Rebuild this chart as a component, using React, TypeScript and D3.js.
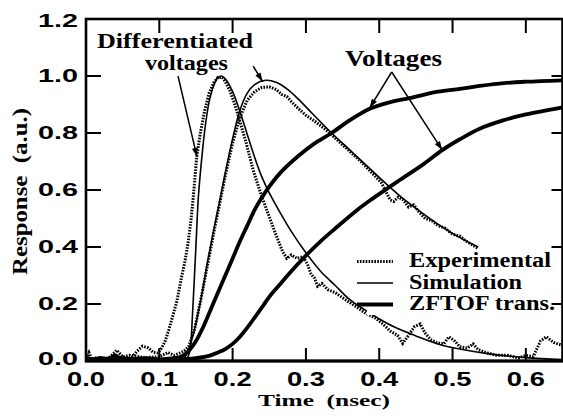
import React from 'react';
import * as d3 from 'd3';

type Pt = [number, number];

const xTicks = [0, 0.1, 0.2, 0.3, 0.4, 0.5, 0.6];
const yTicks = [0, 0.2, 0.4, 0.6, 0.8, 1.0, 1.2];
const legendLabels = ['Experimental', 'Simulation', 'ZFTOF  trans.'];

// faster differentiated voltage (peak ~0.18 ns)
const diffFastExp: Pt[] = [
  [0, 0.01], [0.004, 0.03], [0.008, 0.006], [0.015, 0.012], [0.022, 0.006], [0.03, 0.01],
  [0.036, 0.022], [0.042, 0.038], [0.048, 0.02], [0.055, 0.008], [0.063, 0.014], [0.07, 0.035],
  [0.077, 0.052], [0.085, 0.046], [0.092, 0.03], [0.098, 0.028], [0.103, 0.045], [0.108, 0.07],
  [0.113, 0.11], [0.118, 0.155], [0.124, 0.21], [0.13, 0.29], [0.135, 0.35], [0.139, 0.41],
  [0.143, 0.49], [0.146, 0.565], [0.151, 0.715], [0.156, 0.8], [0.162, 0.88], [0.168, 0.94],
  [0.174, 0.975], [0.18, 0.995], [0.186, 0.995], [0.19, 0.98], [0.196, 0.95], [0.203, 0.9],
  [0.21, 0.84], [0.218, 0.77], [0.228, 0.67], [0.238, 0.59], [0.248, 0.52], [0.258, 0.45],
  [0.268, 0.385], [0.274, 0.36], [0.28, 0.372], [0.288, 0.36], [0.296, 0.366], [0.302, 0.34],
  [0.307, 0.305], [0.312, 0.29], [0.316, 0.262], [0.322, 0.272], [0.33, 0.25], [0.34, 0.24],
  [0.35, 0.222], [0.357, 0.21], [0.364, 0.198], [0.38, 0.17], [0.395, 0.15], [0.405, 0.13],
  [0.415, 0.105], [0.425, 0.09], [0.432, 0.062], [0.44, 0.09], [0.448, 0.12], [0.456, 0.13],
  [0.462, 0.1], [0.47, 0.075], [0.478, 0.065], [0.488, 0.06], [0.495, 0.085], [0.503, 0.07],
  [0.51, 0.05], [0.52, 0.045], [0.528, 0.06], [0.535, 0.04], [0.545, 0.03], [0.56, 0.02],
  [0.575, 0.02], [0.59, 0.01], [0.6, 0.02], [0.61, 0.015], [0.62, 0.07], [0.628, 0.085],
  [0.638, 0.065], [0.65, 0.055],
];

const diffFastSim: Pt[] = [
  [0, 0], [0.13, 0], [0.138, 0.01], [0.142, 0.04], [0.145, 0.15], [0.148, 0.3], [0.151, 0.46],
  [0.153, 0.565], [0.156, 0.66], [0.159, 0.74], [0.163, 0.83], [0.168, 0.91], [0.174, 0.965],
  [0.18, 0.995], [0.185, 1.0], [0.19, 0.99], [0.2, 0.945], [0.21, 0.875], [0.22, 0.795],
  [0.23, 0.715], [0.24, 0.645], [0.25, 0.59], [0.265, 0.52], [0.28, 0.455], [0.3, 0.38],
  [0.32, 0.315], [0.34, 0.265], [0.36, 0.215], [0.38, 0.18], [0.4, 0.148], [0.42, 0.12],
  [0.45, 0.088], [0.48, 0.06], [0.51, 0.042], [0.55, 0.025], [0.6, 0.012], [0.65, 0.005],
];

// slower differentiated voltage (peak ~0.25 ns)
const diffSlowExp: Pt[] = [
  [0, 0.005], [0.02, 0.012], [0.04, 0.008], [0.06, 0.02], [0.08, 0.012], [0.1, 0.015],
  [0.112, 0.03], [0.12, 0.02], [0.128, 0.028], [0.134, 0.035], [0.14, 0.05], [0.148, 0.11],
  [0.157, 0.22], [0.166, 0.34], [0.175, 0.46], [0.183, 0.56], [0.19, 0.65], [0.2, 0.765],
  [0.21, 0.855], [0.22, 0.915], [0.23, 0.945], [0.24, 0.96], [0.25, 0.962], [0.26, 0.952],
  [0.267, 0.935], [0.274, 0.928], [0.282, 0.905], [0.29, 0.885], [0.3, 0.862], [0.31, 0.845],
  [0.318, 0.83], [0.33, 0.805], [0.345, 0.77], [0.36, 0.735], [0.375, 0.7], [0.39, 0.66],
  [0.403, 0.625], [0.41, 0.59], [0.415, 0.565], [0.42, 0.56], [0.426, 0.575], [0.433, 0.565],
  [0.44, 0.54], [0.447, 0.548], [0.455, 0.52], [0.463, 0.5], [0.472, 0.492], [0.48, 0.475],
  [0.49, 0.466], [0.5, 0.445], [0.51, 0.438], [0.52, 0.418], [0.535, 0.395],
];

const diffSlowSim: Pt[] = [
  [0, 0], [0.128, 0], [0.134, 0.01], [0.14, 0.04], [0.148, 0.11], [0.157, 0.22], [0.166, 0.35],
  [0.175, 0.47], [0.183, 0.57], [0.19, 0.66], [0.2, 0.78], [0.21, 0.88], [0.22, 0.94],
  [0.23, 0.97], [0.245, 0.985], [0.26, 0.977], [0.275, 0.953], [0.29, 0.918], [0.31, 0.865],
  [0.335, 0.8], [0.36, 0.74], [0.385, 0.68], [0.408, 0.625], [0.43, 0.575], [0.453, 0.53],
  [0.48, 0.48], [0.505, 0.44], [0.535, 0.4],
];

// voltages (ZFTOF transient)
const voltFast: Pt[] = [
  [0, 0.012], [0.01, 0.005], [0.02, 0.01], [0.03, 0.006], [0.04, 0.02], [0.045, 0.012],
  [0.06, 0.006], [0.08, 0.01], [0.1, 0.006], [0.12, 0.01], [0.13, 0.015], [0.14, 0.035],
  [0.15, 0.07], [0.16, 0.12], [0.17, 0.18], [0.18, 0.24], [0.19, 0.3], [0.2, 0.36],
  [0.21, 0.42], [0.22, 0.475], [0.23, 0.53], [0.244, 0.59], [0.265, 0.66], [0.29, 0.72],
  [0.31, 0.76], [0.335, 0.8], [0.36, 0.845], [0.387, 0.885], [0.41, 0.905], [0.446, 0.925],
  [0.48, 0.945], [0.51, 0.955], [0.537, 0.965], [0.57, 0.975], [0.6, 0.98], [0.65, 0.985],
];

const voltSlow: Pt[] = [
  [0, 0.005], [0.05, 0.008], [0.1, 0.004], [0.13, 0.005], [0.15, 0.01], [0.17, 0.02],
  [0.18, 0.03], [0.19, 0.042], [0.2, 0.06], [0.21, 0.085], [0.22, 0.117], [0.23, 0.152],
  [0.24, 0.188], [0.25, 0.225], [0.265, 0.27], [0.28, 0.315], [0.3, 0.37], [0.32, 0.42],
  [0.34, 0.465], [0.37, 0.53], [0.39, 0.568], [0.428, 0.635], [0.46, 0.69], [0.486, 0.74],
  [0.51, 0.778], [0.537, 0.815], [0.57, 0.845], [0.6, 0.865], [0.65, 0.89],
];

const SERIF = '"Liberation Serif", "Times New Roman", serif';
const SANS = '"Liberation Sans", Arial, sans-serif';

export default function App() {
  const width = 563;
  const height = 416;
  const plot = { left: 86, right: 562.5, top: 19, bottom: 361 };

  const x = d3.scaleLinear().domain([0, 0.65]).range([plot.left, plot.right]);
  const y = d3.scaleLinear().domain([0, 1.2]).range([plot.bottom, plot.top]);

  const rough = d3.line<Pt>().x(d => x(d[0])).y(d => y(d[1]));
  const smooth = d3.line<Pt>().x(d => x(d[0])).y(d => y(d[1])).curve(d3.curveCatmullRom.alpha(0.5));

  const dotted = { stroke: '#000', strokeWidth: 3, strokeDasharray: '1.6 1.3', fill: 'none' };
  const thin = { stroke: '#000', strokeWidth: 1.6, fill: 'none' };
  const thick = { stroke: '#000', strokeWidth: 3.8, fill: 'none', strokeLinejoin: 'round' as const };

  // annotation arrows (data coordinates)
  const arrows: { from: Pt; to: Pt }[] = [
    { from: [0.1255, 1.0], to: [0.1514, 0.716] },
    { from: [0.228, 1.035], to: [0.241, 0.98] },
    { from: [0.417, 1.014], to: [0.387, 0.888] },
    { from: [0.417, 1.014], to: [0.486, 0.74] },
  ];

  const arrowHead = (a: { from: Pt; to: Pt }) => {
    const x0 = x(a.from[0]), y0 = y(a.from[1]);
    const x1 = x(a.to[0]), y1 = y(a.to[1]);
    const ang = Math.atan2(y1 - y0, x1 - x0);
    const len = 9, half = 3;
    const bx = x1 - len * Math.cos(ang), by = y1 - len * Math.sin(ang);
    const px = -Math.sin(ang) * half, py = Math.cos(ang) * half;
    return `M${x1},${y1}L${bx + px},${by + py}L${bx - px},${by - py}Z`;
  };

  const innerTicks = yTicks.filter(t => t > 0 && t < 1.2);
  const innerX = xTicks.filter(t => t > 0);

  return (
    <svg width={width} height={height} style={{ position: 'absolute', left: 0, top: 0, background: '#fff' }}>
      <defs>
        <clipPath id="plotClip">
          <rect x={plot.left} y={plot.top} width={plot.right - plot.left} height={plot.bottom - plot.top} />
        </clipPath>
      </defs>

      <g clipPath="url(#plotClip)">
        <path d={smooth(voltFast) || ''} {...thick} />
        <path d={smooth(voltSlow) || ''} {...thick} />
        <path d={smooth(diffFastSim) || ''} {...thin} />
        <path d={smooth(diffSlowSim) || ''} {...thin} />
        <path d={rough(diffFastExp) || ''} {...dotted} />
        <path d={rough(diffSlowExp) || ''} {...dotted} />
      </g>

      {/* legend box hides the curves behind it */}
      <rect x={367} y={250} width={194} height={65} fill="#fff" />
      {legendLabels.map((label, i) => {
        const base = 267 + i * 21.5;
        const ly = base - 5.5;
        const style = i === 0 ? dotted : i === 1 ? thin : thick;
        return (
          <g key={label}>
            <line x1={357} x2={393} y1={ly} y2={ly} {...style} />
            <text
              x={409}
              y={base}
              fontFamily={SERIF}
              fontWeight="bold"
              fontSize={20}
              textLength={[142, 113, 146][i]}
              lengthAdjust="spacingAndGlyphs"
            >
              {label}
            </text>
          </g>
        );
      })}

      {/* frame */}
      <rect
        x={plot.left}
        y={plot.top}
        width={plot.right - plot.left}
        height={plot.bottom - plot.top}
        fill="none"
        stroke="#000"
        strokeWidth={2.6}
      />
      <line x1={plot.left - 1} x2={plot.right + 1} y1={plot.bottom} y2={plot.bottom} stroke="#000" strokeWidth={3.2} />

      {/* ticks */}
      {innerTicks.map(t => (
        <g key={`yt${t}`} stroke="#000" strokeWidth={2}>
          <line x1={plot.left} x2={plot.left + 15} y1={y(t)} y2={y(t)} />
          <line x1={plot.right - 11} x2={plot.right} y1={y(t)} y2={y(t)} />
        </g>
      ))}
      {innerX.map(t => (
        <g key={`xt${t}`} stroke="#000" strokeWidth={2}>
          <line x1={x(t)} x2={x(t)} y1={plot.top} y2={plot.top + 14} />
          <line x1={x(t)} x2={x(t)} y1={plot.bottom} y2={plot.bottom - 13} />
        </g>
      ))}

      {/* tick labels */}
      {yTicks.map(t => (
        <text
          key={`yl${t}`}
          x={78}
          y={Math.min(Math.max(y(t), 21), 359)}
          textAnchor="end"
          dominantBaseline="central"
          fontFamily={SANS}
          fontWeight="bold"
          fontSize={17.5}
          textLength={40}
          lengthAdjust="spacingAndGlyphs"
        >
          {t.toFixed(1)}
        </text>
      ))}
      {xTicks.map(t => (
        <text
          key={`xl${t}`}
          x={x(t)}
          y={386}
          textAnchor="middle"
          fontFamily={SANS}
          fontWeight="bold"
          fontSize={21}
          textLength={38}
          lengthAdjust="spacingAndGlyphs"
        >
          {t.toFixed(1)}
        </text>
      ))}

      {/* axis titles */}
      <text
        x={324}
        y={406}
        textAnchor="middle"
        fontFamily={SERIF}
        fontWeight="bold"
        fontSize={17.5}
        textLength={132}
        lengthAdjust="spacingAndGlyphs"
        style={{ whiteSpace: 'pre' }}
      >
        {'Time  (nsec)'}
      </text>
      <text
        transform="translate(27,191.5) rotate(-90)"
        textAnchor="middle"
        fontFamily={SERIF}
        fontWeight="bold"
        fontSize={21}
        textLength={167}
        lengthAdjust="spacingAndGlyphs"
        style={{ whiteSpace: 'pre' }}
      >
        {'Response  (a.u.)'}
      </text>

      {/* annotations */}
      <text x={97} y={48} fontFamily={SERIF} fontWeight="bold" fontSize={21} textLength={156} lengthAdjust="spacingAndGlyphs">
        Differentiated
      </text>
      <text x={145} y={70} fontFamily={SERIF} fontWeight="bold" fontSize={21} textLength={83} lengthAdjust="spacingAndGlyphs">
        voltages
      </text>
      <text x={345} y={66} fontFamily={SERIF} fontWeight="bold" fontSize={24} textLength={97} lengthAdjust="spacingAndGlyphs">
        Voltages
      </text>
      {arrows.map((a, i) => (
        <g key={`ar${i}`}>
          <line x1={x(a.from[0])} y1={y(a.from[1])} x2={x(a.to[0])} y2={y(a.to[1])} stroke="#000" strokeWidth={1.5} />
          <path d={arrowHead(a)} fill="#000" />
        </g>
      ))}
    </svg>
  );
}
